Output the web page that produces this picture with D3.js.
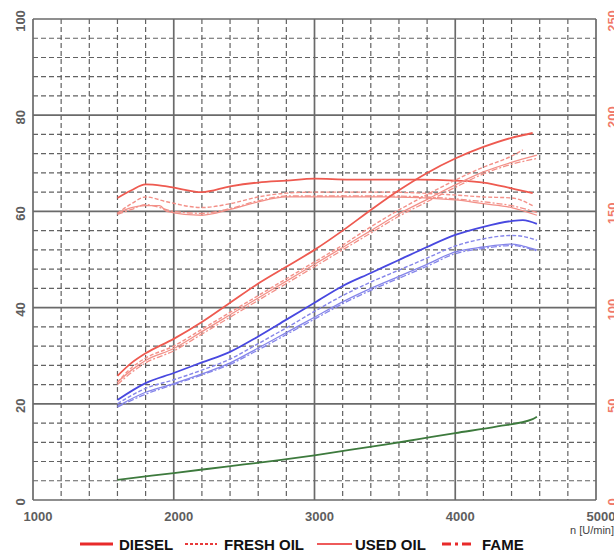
<!DOCTYPE html>
<html>
<head>
<meta charset="utf-8">
<script src="https://cdn.jsdelivr.net/npm/d3@7"></script>
<style>
  body { margin: 0; background: #fff; }
  .tick-l { font-family: "Liberation Sans", Arial, sans-serif; font-weight: bold; font-size: 13px; fill: #5e5e5e; }
  .tick-r { font-family: "Liberation Sans", Arial, sans-serif; font-weight: bold; font-size: 13px; fill: #f07a6a; }
  .legend { font-family: "Liberation Sans", Arial, sans-serif; font-weight: bold; font-size: 15px; fill: #111; }
</style>
</head>
<body>
<div class="canvas"></div>
<script>
var width = 614, height = 551;

// x ticks and axis ranges
var xTicks = [1000, 2000, 3000, 4000, 5000];
var yLeftTicks = [0, 20, 40, 60, 80, 100];
var yRightTicks = [0, 50, 100, 150, 200, 250];

// torque curves (right axis, Nm)
var tqDieselRpm = [1600, 1700, 1800, 1950, 2200, 2400, 2600, 2800, 3000, 3250, 3500, 3750, 4000, 4200, 4400, 4550];
var tqDiesel    = [157, 161, 164, 163, 160, 163, 165, 166, 167, 166.5, 166.5, 166.5, 166, 165, 162, 159.5];
var tqFreshRpm  = [1600, 1700, 1800, 1950, 2200, 2400, 2600, 2800, 3000, 3500, 4000, 4200, 4400, 4550];
var tqFresh     = [149, 154, 157.5, 155, 152, 154, 157.5, 159.5, 160, 160, 158.5, 157.5, 157, 153];
var tqUsedRpm   = [1600, 1700, 1800, 1900, 1950, 2200, 2400, 2600, 2800, 3000, 3500, 4000, 4200, 4400, 4580];
var tqUsed      = [149, 152, 153, 153, 150, 148, 151, 155, 157.5, 157.5, 157.5, 156, 154, 152, 148];
var tqFameRpm   = [1600, 1700, 1800, 2000, 2200, 2400, 2600, 2800, 3000, 3500, 4000, 4200, 4400, 4580];
var tqFame      = [148.5, 151, 153.5, 150, 149, 151.5, 155.5, 158, 158, 158, 156.5, 155, 153, 149.5];

// red rising curves (left axis)
var pwRpm       = [1600, 1700, 1800, 2000, 2200, 2400, 2600, 2800, 3000, 3200, 3400, 3600, 3800, 4000, 4200, 4400];
var pwDiesel    = [25.8, 28.5, 30.5, 33.5, 37, 41, 45, 48.5, 52, 56, 60.3, 64.4, 68, 71, 73.4, 75.3];
var pwDieselEnd = [[4550, 76.3]];
var pwFresh     = [24.5, 27.5, 29.5, 32, 35.5, 39, 42.5, 46, 49.5, 53, 56.8, 60.3, 63.5, 66.5, 69.2, 71.5];
var pwFreshEnd  = [[4480, 72.8]];
var pwUsed      = [24.5, 27, 29, 31.5, 35, 38.5, 42, 45.5, 49, 52.5, 56, 59.5, 62.5, 65.5, 68.2, 70.2];
var pwUsedEnd   = [[4580, 71.7]];
var pwFame      = [24, 26.5, 28.5, 31, 34.5, 38, 41.5, 45, 48.5, 52, 55.5, 59, 62, 65, 67.8, 69.8];
var pwFameEnd   = [[4580, 71]];

// blue curves (left axis)
var blRpm       = [1600, 1800, 2000, 2200, 2400, 2600, 2800, 3000, 3200, 3400, 3600, 3800, 4000, 4200, 4400, 4480, 4580];
var blDiesel    = [20.8, 24.3, 26.4, 28.6, 30.8, 34, 37.5, 41, 44.5, 47.2, 49.9, 52.6, 55.1, 56.8, 58, 58.2, 57.4];
var blFresh     = [20, 23.2, 25, 27, 29.3, 32.5, 35.8, 39.2, 42.5, 45.3, 47.8, 50.3, 52.8, 54.3, 55, 54.8, 54];
var blUsed      = [19.5, 22.4, 24.2, 26.2, 28.5, 31.6, 34.8, 38, 41.2, 44, 46.5, 49, 51.6, 52.6, 53.2, 52.8, 52];
var blFame      = [19.3, 22, 24, 26, 28.2, 31.2, 34.4, 37.6, 40.8, 43.6, 46.1, 48.6, 51.2, 52.3, 52.9, 52.6, 51.8];

// green curve (left axis)
var grRpm = [1600, 1800, 2000, 2250, 2500, 2750, 3000, 3250, 3500, 3750, 4000, 4300, 4550, 4580];
var grVal = [4.2, 4.9, 5.6, 6.5, 7.4, 8.3, 9.3, 10.4, 11.5, 12.7, 13.9, 15.3, 16.8, 17.3];

var legendNames = ["DIESEL", "FRESH OIL", "USED OIL", "FAME"];

var x = d3.scaleLinear().domain([1000, 5000]).range([33, 596]);
var yL = d3.scaleLinear().domain([0, 100]).range([500, 19]);
var yR = d3.scaleLinear().domain([0, 250]).range([500, 19]);

var svg = d3.select(".canvas").append("svg")
    .attr("width", width)
    .attr("height", height);

// minor dashed grid
var minorX = d3.range(1200, 5000, 200).filter(function(d) { return d % 1000 !== 0; });
var minorY = d3.range(4, 100, 4).filter(function(d) { return d % 20 !== 0; });

svg.selectAll(".minor-x").data(minorX).enter().append("line")
    .attr("x1", function(d) { return x(d); })
    .attr("x2", function(d) { return x(d); })
    .attr("y1", yL(100)).attr("y2", yL(0))
    .style("stroke", "#626262").style("stroke-width", 1.2)
    .style("stroke-dasharray", "5,3");
svg.selectAll(".minor-y").data(minorY).enter().append("line")
    .attr("x1", x(1000)).attr("x2", x(5000))
    .attr("y1", function(d) { return yL(d); })
    .attr("y2", function(d) { return yL(d); })
    .style("stroke", "#626262").style("stroke-width", 1.2)
    .style("stroke-dasharray", "5,3");

// major solid grid
svg.selectAll(".major-x").data(xTicks).enter().append("line")
    .attr("x1", function(d) { return x(d); })
    .attr("x2", function(d) { return x(d); })
    .attr("y1", yL(100)).attr("y2", yL(0))
    .style("stroke", "#6a6a6a").style("stroke-width", 1.7);
svg.selectAll(".major-y").data(yLeftTicks).enter().append("line")
    .attr("x1", x(1000)).attr("x2", x(5000))
    .attr("y1", function(d) { return yL(d); })
    .attr("y2", function(d) { return yL(d); })
    .style("stroke", "#6a6a6a").style("stroke-width", 1.7);

// tick labels
svg.selectAll(".xl").data(xTicks).enter().append("text")
    .attr("class", "tick-l")
    .attr("x", function(d) { return x(d) + 5; })
    .attr("y", 521)
    .attr("text-anchor", "middle")
    .text(function(d) { return d; });

svg.selectAll(".yl").data(yLeftTicks).enter().append("text")
    .attr("class", "tick-l")
    .attr("transform", function(d) { return "translate(25," + (yL(d) + 2) + ") rotate(-90)"; })
    .attr("text-anchor", "middle")
    .text(function(d) { return d; });

svg.selectAll(".yr").data(yRightTicks).enter().append("text")
    .attr("class", "tick-r")
    .attr("transform", function(d) { return "translate(617," + (yR(d) + 2) + ") rotate(-90)"; })
    .attr("text-anchor", "middle")
    .text(function(d) { return d; });

svg.append("text")
    .attr("x", 614).attr("y", 534)
    .attr("text-anchor", "end")
    .style("font-family", "Liberation Sans, Arial, sans-serif")
    .style("font-size", "11px")
    .style("fill", "#444")
    .text("n [U/min]");

// curves
function pairs(rpm, vals, extra) {
    var p = rpm.map(function(r, i) { return [r, vals[i]]; });
    return extra ? p.concat(extra) : p;
}
function drawCurve(pts, yScale, color, w, dash) {
    var line = d3.line()
        .x(function(d) { return x(d[0]); })
        .y(function(d) { return yScale(d[1]); })
        .curve(d3.curveMonotoneX);
    svg.append("path")
        .attr("d", line(pts))
        .style("fill", "none")
        .style("stroke", color)
        .style("stroke-width", w)
        .style("stroke-dasharray", dash || null);
}

var redDark = "#ee5a50", redLight = "#f39088";
var blueDark = "#4848e0", blueLight = "#8585ea";

drawCurve(pairs(tqUsedRpm, tqUsed), yR, redLight, 1.3);
drawCurve(pairs(tqFameRpm, tqFame), yR, redLight, 1.3, "6,2,2,2");
drawCurve(pairs(tqFreshRpm, tqFresh), yR, redLight, 1.4, "4,2");
drawCurve(pairs(tqDieselRpm, tqDiesel), yR, redDark, 1.8);

drawCurve(pairs(pwRpm, pwUsed, pwUsedEnd), yL, redLight, 1.3);
drawCurve(pairs(pwRpm, pwFame, pwFameEnd), yL, redLight, 1.3, "6,2,2,2");
drawCurve(pairs(pwRpm, pwFresh, pwFreshEnd), yL, redLight, 1.4, "4,2");
drawCurve(pairs(pwRpm, pwDiesel, pwDieselEnd), yL, redDark, 1.8);

drawCurve(pairs(blRpm, blUsed), yL, blueLight, 1.3);
drawCurve(pairs(blRpm, blFame), yL, blueLight, 1.3, "6,2,2,2");
drawCurve(pairs(blRpm, blFresh), yL, blueLight, 1.4, "4,2");
drawCurve(pairs(blRpm, blDiesel), yL, blueDark, 1.8);

drawCurve(pairs(grRpm, grVal), yL, "#3d7a3d", 1.8);

// legend
var legendItems = [
    {x1: 80, x2: 113, tx: 119, color: "#e82a2a", w: 3, dash: null},
    {x1: 185, x2: 217, tx: 224, color: "#e83a3a", w: 2, dash: "3,2"},
    {x1: 317, x2: 352, tx: 355, color: "#ee5a5a", w: 2.2, dash: null},
    {x1: 442, x2: 475, tx: 482, color: "#e82a2a", w: 3, dash: "9,4,3,4"}
];
var lg = svg.selectAll(".lg").data(legendItems).enter().append("g");
lg.append("line")
    .attr("x1", function(d) { return d.x1; })
    .attr("x2", function(d) { return d.x2; })
    .attr("y1", 544).attr("y2", 544)
    .style("stroke", function(d) { return d.color; })
    .style("stroke-width", function(d) { return d.w; })
    .style("stroke-dasharray", function(d) { return d.dash; });
lg.append("text")
    .attr("class", "legend")
    .attr("x", function(d) { return d.tx; })
    .attr("y", 550)
    .text(function(d, i) { return legendNames[i]; });
</script>
</body>
</html>
